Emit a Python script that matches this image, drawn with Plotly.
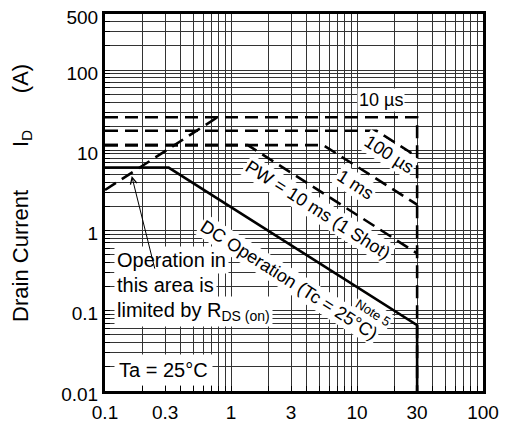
import math
import plotly.graph_objects as go

# ---- data ----
vds_10us = [0.1, 30, 30]
id_10us = [25.8, 25.8, 0.01]

vds_100us = [0.1, 14.3, 30]
id_100us = [17.5, 17.5, 8.3]

vds_1ms = [0.1, 5.4, 30]
id_1ms = [11.6, 11.6, 2.1]

vds_10ms = [0.1, 1.36, 30]
id_10ms = [11.6, 11.6, 0.52]

vds_dc = [0.1, 0.32, 30, 30]
id_dc = [6.1, 6.1, 0.066, 0.01]

vds_rds = [0.1, 0.78]
id_rds = [3.2, 25.8]

x_tickvals = [0.1, 0.3, 1, 3, 10, 30, 100]
x_ticktext = ["0.1", "0.3", "1", "3", "10", "30", "100"]
y_tickvals = [0.01, 0.1, 1, 10, 100, 500]
y_ticktext = ["0.01", "0.1", "1", "10", "100", "500"]

x_minor = [0.2, 0.4, 0.5, 0.6, 0.7, 0.8, 0.9,
           2, 4, 5, 6, 7, 8, 9,
           20, 40, 50, 60, 70, 80, 90]
y_minor = [0.02, 0.03, 0.04, 0.05, 0.06, 0.07, 0.08, 0.09,
           0.2, 0.3, 0.4, 0.5, 0.6, 0.7, 0.8, 0.9,
           2, 3, 4, 5, 6, 7, 8, 9,
           20, 30, 40, 50, 60, 70, 80, 90,
           200, 300, 400]

FONT = "Liberation Sans, Arial, sans-serif"
DASH = "13px,7px"
LW = 2.6

fig = go.Figure()

def add(x, y, dash):
    fig.add_trace(go.Scatter(x=x, y=y, mode="lines",
                             line=dict(color="black", width=LW, dash=dash),
                             showlegend=False, hoverinfo="skip"))

add(vds_10us, id_10us, DASH)
add(vds_100us, id_100us, DASH)
add(vds_1ms, id_1ms, DASH)
add(vds_10ms, id_10ms, DASH)
add(vds_rds, id_rds, DASH)
add(vds_dc, id_dc, "solid")

L = math.log10
ANG = 32.5

def lab(text, x, y, size, angle=ANG, **kw):
    fig.add_annotation(x=L(x), y=L(y), xref="x", yref="y", text=text,
                       showarrow=False, textangle=angle,
                       font=dict(family=FONT, size=size, color="black"),
                       bgcolor="white", borderpad=1, **kw)

lab("10 µs", 15.5, 42, 18, angle=0)
lab("100 µs", 17.8, 8.98, 18)
lab("1 ms", 9.8, 3.74, 18)
lab("PW = 10 ms (1 Shot)", 4.9, 1.8, 18)
lab("DC Operation (Tc = 25°C)", 2.88, 0.241, 18)
lab("Note 5", 13.3, 0.095, 13)

# left-side note, one line per box
for txt, yy in [("Operation in", 0.43), ("this area is", 0.210),
                ("limited by R<sub>DS (on)</sub>", 0.097)]:
    fig.add_annotation(x=L(0.118), y=L(yy), xref="x", yref="y", text=txt,
                       showarrow=False, xanchor="left", yanchor="middle",
                       font=dict(family=FONT, size=20, color="black"),
                       bgcolor="white", borderpad=2)

# arrow pointing at the R_DS(on) limit line
fig.add_annotation(x=L(0.163), y=L(4.78), xref="x", yref="y", text="",
                   showarrow=True, axref="x", ayref="y",
                   ax=L(0.25), ay=L(0.321),
                   arrowhead=5, arrowsize=1.3, arrowwidth=1, arrowcolor="black")

fig.add_annotation(x=L(0.29), y=L(0.0185), xref="x", yref="y", text="Ta = 25°C",
                   showarrow=False, xanchor="center", yanchor="middle",
                   font=dict(family=FONT, size=20, color="black"),
                   bgcolor="white", borderpad=4)

NB = "\u00a0"
fig.add_annotation(x=-0.22, y=0.525, xref="paper", yref="paper",
                   text="Drain Current" + NB * 7 + "I<sub>D</sub>" + NB * 6 + "(A)",
                   textangle=-90, showarrow=False, xanchor="center", yanchor="middle",
                   font=dict(family=FONT, size=22, color="black"))

axis_common = dict(type="log", showline=True, mirror=True, linewidth=3, linecolor="black",
                   showgrid=True, gridcolor="#333", gridwidth=1, automargin=False,
                   ticks="inside", ticklen=5, tickcolor="black", tickwidth=1,
                   tickfont=dict(family=FONT, size=19, color="black"),
                   ticklabeloverflow="allow", zeroline=False)

fig.update_xaxes(range=[L(0.1), L(100)], tickmode="array",
                 tickvals=x_tickvals, ticktext=x_ticktext, ticklabelstandoff=2,
                 minor=dict(tickmode="array", tickvals=x_minor, showgrid=True,
                            gridcolor="#333", gridwidth=1, ticks="inside",
                            ticklen=5, tickcolor="black"),
                 **axis_common)
fig.update_yaxes(range=[L(0.01), L(500)], tickmode="array",
                 tickvals=y_tickvals, ticktext=y_ticktext, ticklabelshift=3,
                 minor=dict(tickmode="array", tickvals=y_minor, showgrid=True,
                            gridcolor="#333", gridwidth=1, ticks="inside",
                            ticklen=5, tickcolor="black"),
                 **axis_common)

# the page body adds an 8px offset, so the figure is 8px smaller
fig.update_layout(width=499, height=417,
                  margin=dict(l=97, r=24, t=6, b=34, pad=0),
                  paper_bgcolor="white", plot_bgcolor="white",
                  font=dict(family=FONT, color="black"))

fig.write_html("out.html")
